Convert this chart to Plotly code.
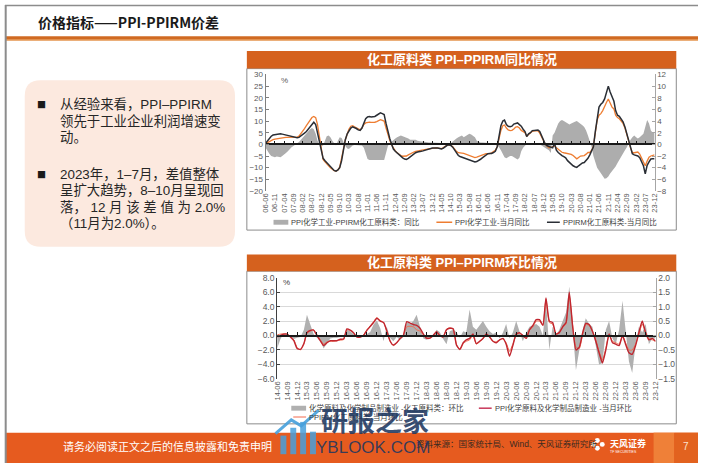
import plotly.graph_objects as go
import pandas as pd

W, H = 702, 468
def fx(x): return x / W
def fy(y): return 1 - y / H

FONT = "Liberation Sans, Noto Sans CJK SC, sans-serif"
CJK = "Noto Sans CJK SC, Liberation Sans, sans-serif"

# ---------------- top chart data (monthly 2006-06 .. 2023-12) ----------------
top_tick_labels = ["06-06","06-11","07-04","07-09","08-02","08-07","08-12","09-05","09-10","10-03",
                   "10-08","11-01","11-06","11-11","12-04","12-09","13-02","13-07","13-12","14-05",
                   "14-10","15-03","15-08","16-01","16-06","16-11","17-04","17-09","18-02","18-07",
                   "18-12","19-05","19-10","20-03","20-08","21-01","21-06","21-11","22-04","22-09",
                   "23-02","23-07","23-12"]

# PPIRM 化工原料类 当月同比 (%)
top_ppirm = [
    0.5, 1.5, 2.5, 3.5, 4.0, 4.2, 4.3,
    4.5, 4.5, 4.4, 4.2, 4.0, 3.8, 3.6, 3.4, 3.2, 3.0, 2.8, 3.0,
    3.5, 4.0, 4.8, 5.5, 6.5, 7.5, 8.8, 9.5, 8.5, 5.0, 0.5, -3.0,
    -6.0, -7.0, -7.8, -8.5, -9.5, -10.5, -11.2, -11.5, -11.0, -10.0, -7.0, -2.5,
    2.0, 4.5, 6.0, 7.0, 7.5, 7.2, 6.8, 6.2, 6.0, 7.0, 9.0, 11.0,
    11.8, 12.0, 11.8, 11.8, 12.0, 12.5, 13.0, 13.5, 13.2, 12.8, 9.0, 5.0,
    2.5, 0.0, -2.0, -3.0, -3.8, -4.5, -5.0, -5.8, -6.3, -6.5, -6.0, -5.3,
    -4.8, -4.2, -3.6, -3.3, -3.0, -3.0, -2.8, -2.5, -2.3, -2.0, -1.8, -1.6,
    -1.6, -1.5, -1.6, -1.8, -2.0, -1.6, -1.0, -0.4, -0.2, -0.5, -1.2, -2.5,
    -3.8, -4.8, -5.2, -5.5, -5.7, -6.0, -6.4, -6.7, -7.0, -7.3, -7.6, -7.4,
    -7.0, -6.4, -5.8, -5.2, -4.5, -4.0, -3.9, -3.9, -3.5, -3.0, -1.0, 3.0,
    8.0, 10.0, 10.4, 8.5, 7.8, 7.6, 7.8, 8.7, 9.0, 9.2, 8.5, 7.8,
    6.5, 5.5, 3.4, 4.5, 5.0, 5.9, 6.0, 6.2, 6.2, 5.5, 3.6, 1.5,
    0.0, -0.6, -0.8, -1.2, -1.5, 0.5, -2.5, -3.5, -4.3, -4.8, -5.3, -5.8,
    -7.0, -7.8, -8.5, -9.2, -9.6, -9.9, -9.2, -8.5, -8.0, -7.8, -7.0, -6.0,
    -4.5, -3.0, -1.0, 5.5, 11.8, 16.0, 17.2, 18.0, 19.5, 22.0, 25.0, 22.5,
    20.5, 18.5, 14.5, 12.5, 12.0, 11.0, 9.7, 7.5, 4.8, 1.5, -1.5, -4.0,
    -4.5, -4.7, -5.0, -5.7, -7.5, -9.2, -12.7, -9.0, -7.5, -6.3, -6.2, -6.2,
]

# PPI 化学工业 当月同比 (%)
top_ppi = [
    0.3, 0.8, 1.2, 1.6, 2.0, 2.2, 2.4,
    2.6, 2.7, 2.8, 2.9, 3.0, 3.0, 3.0, 3.0, 3.0, 3.0, 3.1, 3.5,
    4.5, 5.5, 6.8, 8.0, 9.2, 10.5, 11.5, 12.0, 11.5, 8.5, 3.0, -2.5,
    -6.5, -7.5, -8.5, -9.2, -10.0, -10.8, -11.3, -11.5, -11.0, -9.8, -6.5, -2.0,
    2.0, 4.8, 6.5, 7.8, 8.0, 7.5, 7.0, 6.5, 6.2, 7.0, 8.5, 9.2,
    9.4, 9.5, 9.4, 9.4, 9.5, 9.8, 10.2, 10.6, 10.3, 10.0, 7.0, 4.0,
    1.8, -0.3, -1.8, -2.8, -3.6, -4.3, -4.8, -5.1, -5.2, -5.0, -4.5, -4.0,
    -3.6, -3.3, -3.0, -2.8, -2.7, -2.6, -2.4, -2.2, -2.0, -1.9, -1.8, -1.6,
    -1.5, -1.5, -1.6, -1.7, -1.8, -1.4, -0.8, -0.3, -0.2, -0.4, -1.0, -2.2,
    -3.0, -3.6, -3.8, -3.8, -3.9, -4.2, -4.6, -5.0, -5.3, -5.5, -5.7, -5.5,
    -5.2, -5.0, -4.6, -4.2, -4.0, -4.0, -4.0, -3.6, -3.0, -2.5, -1.0, 2.5,
    6.0, 8.0, 8.3, 7.0, 6.2, 5.9, 6.0, 6.6, 7.4, 7.6, 7.0, 6.0,
    5.6, 5.0, 3.5, 4.3, 5.0, 5.6, 5.8, 5.9, 5.8, 4.8, 3.2, 1.2,
    0.0, -0.8, -1.5, -1.3, -1.0, -0.7, -1.5, -2.2, -2.8, -3.4, -3.6, -3.7,
    -3.8, -4.0, -4.3, -4.8, -5.5, -6.2, -5.6, -5.0, -4.9, -4.8, -4.2, -3.5,
    -3.5, -2.5, -0.8, 5.0, 10.4, 12.5, 13.2, 14.5, 16.5, 18.0, 19.5, 17.4,
    16.0, 15.2, 12.5, 11.5, 11.0, 10.0, 9.0, 7.0, 4.5, 1.5, -1.5, -3.6,
    -3.6, -3.4, -3.3, -4.2, -5.7, -7.5, -9.2, -7.2, -5.5, -5.0, -4.6, -4.5,
]

# PPI化学工业-PPIRM化工原料类：同比 (right axis, %)
top_gap = [
    -0.6, -1.2, -1.6, -2.0, -2.1, -2.2, -2.1,
    -2.1, -2.2, -2.0, -1.8, -1.5, -1.2, -0.8, -0.5, -0.3, 0.0, 0.2, 0.4,
    0.8, 1.2, 1.6, 2.0, 2.2, 2.6, 2.8, 2.6, 1.8, 0.6, 0.0, -0.3,
    -0.2, 0.8, 1.4, 1.5, 1.2, 0.6, 0.1, -0.2, 0.6, 1.2, 1.1, 0.4,
    -0.3, -0.7, -0.8, -0.5, -0.2, -0.1, -0.1, -0.1, -0.1, -0.2, -0.6, -1.6,
    -2.5, -2.7, -2.7, -2.8, -2.8, -2.8, -2.7, -2.8, -2.8, -2.7, -1.5, -0.3,
    0.2, 0.5, 0.8, 1.0, 1.2, 1.4, 1.5, 1.4, 1.3, 1.2, 1.0, 0.8,
    0.8, 0.9, 0.8, 0.6, 0.5, 0.5, 0.5, 0.4, 0.4, 0.3, 0.3, 0.3,
    0.2, 0.2, 0.2, 0.3, 0.3, 0.2, 0.2, 0.2, 0.1, 0.2, 0.5, 0.8,
    1.0, 1.2, 1.4, 1.5, 1.2, 1.4, 1.6, 1.8, 1.7, 1.5, 1.2, 0.6,
    0.4, 0.3, 0.3, 0.3, 0.2, 0.2, 0.2, 0.2, 0.2, 0.1, -0.2, -0.5,
    -1.0, -1.6, -2.2, -2.4, -2.2, -2.0, -2.0, -2.2, -2.5, -2.6, -2.3, -1.2,
    -0.6, -0.2, 0.1, 0.2, 0.2, 0.3, 0.3, 0.2, 0.1, 0.0, -0.2, -0.4,
    -0.6, -0.8, -1.0, -1.5, 1.5, 2.0, 3.0, 3.6, 4.0, 4.2, 4.0, 3.8,
    3.6, 3.4, 3.6, 3.8, 3.9, 4.0, 3.8, 3.6, 3.3, 3.0, 2.4, 1.5,
    0.6, -0.5, -2.0, -3.0, -4.0, -4.5, -5.0, -5.5, -5.9, -5.8, -5.5, -5.0,
    -4.6, -4.2, -3.8, -3.2, -2.6, -2.0, -1.5, -1.0, -0.5, 0.2, 0.8, 1.2,
    1.5, 1.2, 1.0, 1.2, 1.5, 1.8, 3.0, 4.2, 3.6, 2.4, 2.0, 2.1,
]

# ---------------- bottom chart data (monthly 2014-06 .. 2023-12, right-axis units) ----------------
bot_tick_labels = ["14-06","14-09","14-12"] + [f"{y:02d}-{m:02d}" for y in range(15, 24) for m in (3, 6, 9, 12)]

# 化学原料及化学制品制造业-化工原料类：环比
bot_gap = [
    -0.45, -0.12, 0.08, 0.03, -0.05, -0.12, -0.08, -0.05, 0.2, 0.72, 0.38, 0.05,
    -0.08, -0.15, -0.45, -0.25, -0.1, -0.08, -0.08, -0.05, -0.05, 0.22, 0.15, 0.05,
    -0.05, -0.08, 0.0, 0.05, 0.12, 0.38, 0.52, 0.25, -0.2, 0.32, -0.08, -0.2,
    -0.05, -0.15, -0.05, 0.48, 0.4, 0.5, 0.72, 0.3, -0.1, -0.15, -0.08, -0.05,
    0.2, 0.12, -0.12, -0.3, 0.15, 0.2, 0.12, -0.08, 0.15, 0.1, 0.9, 0.3,
    0.2, 0.35, 0.5, 0.3, 0.15, 0.05, 0.1, -0.1, 0.1, 0.4, -0.1, 0.1,
    0.5, 0.15, -0.2, 0.1, 0.3, 0.35, 0.4, 0.3, 0.0, 1.2, -0.5, 0.3,
    0.0, 0.2, 0.5, 0.8, 1.7, 0.3, -1.2, -0.5, 0.2, 0.6, 0.4, 0.3,
    -0.3, -1.0, -0.95, 0.2, 0.5, -0.1, -0.3, 0.2, 1.2, 0.3, -0.9, -1.3,
    -0.3, 0.3, 0.1, 0.4, -0.3, -0.1, -0.1,
]
# PPI化学原料及化学制品制造业-当月环比
bot_ppi = [
    -0.05, 0.0, 0.05, 0.05, -0.05, -0.18, -0.45, -0.48, -0.28, 0.1, 0.18, 0.19,
    0.0, -0.18, -0.35, -0.25, -0.18, -0.18, -0.18, -0.13, -0.12, 0.23, 0.19, 0.1,
    -0.05, -0.05, 0.0, 0.18, 0.31, 0.45, 0.6, 0.5, 0.45, 0.18, -0.18, -0.33,
    -0.25, -0.11, 0.0, 0.48, 0.43, 0.38, 0.35, 0.25, 0.05, -0.09, -0.09, 0.0,
    0.13, 0.0, -0.05, 0.2, 0.25, 0.23, -0.33, -0.48, -0.25, -0.15, -0.1, 0.05,
    -0.28, -0.2, -0.1, 0.05, -0.05, -0.2, -0.25, -0.15, -0.1, -0.3, -0.72, -0.35,
    0.05, 0.1, 0.0, -0.1, 0.2, 0.35, 0.55, 0.55, 0.35, 1.3, 0.5, 0.45,
    0.05, 0.1, 0.3, 0.45, 1.5, 0.3, -0.5, -0.4, 0.1, 0.42, 0.38, 0.15,
    -0.2, -0.6, -0.95, -0.5, 0.05, -0.25, -0.3, -0.35, 0.0, -0.3, -0.6, -0.65,
    -0.35, 0.1, 0.5, 0.1, -0.15, -0.1, -0.2,
]
# PPIRM化工原料类-当月环比
bot_ppirm = [
    0.02, 0.05, 0.06, 0.04, -0.04, -0.15, -0.42, -0.5, -0.3, 0.08, 0.15, 0.2,
    0.02, -0.15, -0.3, -0.22, -0.2, -0.2, -0.18, -0.16, -0.14, 0.2, 0.18, 0.08,
    -0.06, -0.05, 0.02, 0.2, 0.33, 0.48, 0.62, 0.52, 0.45, 0.15, -0.2, -0.35,
    -0.25, -0.12, 0.02, 0.3, 0.32, 0.3, 0.2, 0.15, 0.02, -0.08, -0.1, 0.0,
    0.12, 0.02, -0.05, 0.22, 0.27, 0.22, -0.3, -0.5, -0.28, -0.2, -0.15, 0.0,
    -0.3, -0.22, -0.12, 0.03, -0.06, -0.2, -0.22, -0.15, -0.12, -0.25, -0.55, -0.3,
    0.02, 0.08, 0.0, -0.05, 0.18, 0.3, 0.5, 0.5, 0.35, 1.25, 0.45, 0.4,
    0.05, 0.12, 0.28, 0.4, 1.35, 0.35, -0.4, -0.45, 0.05, 0.38, 0.35, 0.15,
    -0.15, -0.55, -0.85, -0.45, 0.02, -0.2, -0.25, -0.3, -0.02, -0.25, -0.5, -0.5,
    -0.3, 0.05, 0.4, 0.1, -0.12, -0.15, -0.2,
]

top_months = pd.date_range("2006-06-01", "2023-12-01", freq="MS")
bot_months = pd.date_range("2014-06-01", "2023-12-01", freq="MS")

def tick_dates(labels):
    return ["20%s-%s-01" % (l[:2], l[3:]) for l in labels]

# ---------------- geometry (pixels) ----------------
TX0, TX1, TYT, TYB = 264, 658, 71, 190
BX0, BX1, BYT, BYB = 275.7, 659, 278.7, 382
top_zero = fy(TYB) + (20 / 50) * (fy(TYT) - fy(TYB))
bot_zero = fy(BYB) + (1.5 / 3.5) * (fy(BYT) - fy(BYB))

fig = go.Figure()

# top chart
fig.add_trace(go.Scatter(x=top_months, y=top_gap, xaxis="x", yaxis="y", mode="lines",
                         fill="tozeroy", fillcolor="#ADADAD", line=dict(width=0, color="#ADADAD"),
                         hoverinfo="skip"))
fig.add_trace(go.Scatter(x=top_months, y=top_ppi, xaxis="x", yaxis="y2", mode="lines",
                         line=dict(color="#EE7D31", width=1.3)))
fig.add_trace(go.Scatter(x=top_months, y=top_ppirm, xaxis="x", yaxis="y2", mode="lines",
                         line=dict(color="#2A2E35", width=1.5)))
fig.add_trace(go.Scatter(x=[top_months[0]], y=[0], xaxis="x2", yaxis="y2", mode="markers",
                         marker=dict(opacity=0), hoverinfo="skip"))

# bottom chart
fig.add_trace(go.Scatter(x=bot_months, y=bot_gap, xaxis="x3", yaxis="y3", mode="lines",
                         fill="tozeroy", fillcolor="#B0B0B0", line=dict(width=0, color="#B0B0B0"),
                         hoverinfo="skip"))
fig.add_trace(go.Scatter(x=bot_months, y=bot_ppirm, xaxis="x3", yaxis="y3", mode="lines",
                         line=dict(color="#F26B4F", width=1.0, shape="spline", smoothing=0.5)))
fig.add_trace(go.Scatter(x=bot_months, y=bot_ppi, xaxis="x3", yaxis="y3", mode="lines",
                         line=dict(color="#C0262F", width=1.4, shape="spline", smoothing=0.5)))
fig.add_trace(go.Scatter(x=[bot_months[0]], y=[0], xaxis="x3", yaxis="y4", mode="markers",
                         marker=dict(opacity=0), hoverinfo="skip"))
fig.add_trace(go.Scatter(x=[bot_months[0]], y=[0], xaxis="x4", yaxis="y3", mode="markers",
                         marker=dict(opacity=0), hoverinfo="skip"))

tickf = dict(size=8, color="#595959", family=FONT)
yax = dict(showgrid=False, zeroline=False, showline=True, linewidth=1, ticks="inside",
           ticklen=3, tickfont=tickf, fixedrange=True)

fig.update_layout(
    width=W, height=H, margin=dict(l=0, r=0, t=0, b=0),
    paper_bgcolor="white", plot_bgcolor="rgba(0,0,0,0)", showlegend=False,
    font=dict(family=FONT),
    xaxis=dict(domain=[fx(TX0), fx(TX1)], anchor="y", type="date",
               range=["2006-06-01", "2023-12-01"], tickvals=tick_dates(top_tick_labels),
               ticktext=top_tick_labels, tickangle=-90, tickfont=dict(size=7.5, color="#595959", family=FONT),
               ticks="", showline=False, showgrid=False, zeroline=False),
    xaxis2=dict(overlaying="x", anchor="free", position=top_zero, type="date",
                range=["2006-06-01", "2023-12-01"], tickvals=tick_dates(top_tick_labels),
                showticklabels=False, ticks="inside", ticklen=3, tickcolor="#1a1a1a",
                showline=True, linecolor="#1a1a1a", linewidth=1.5, showgrid=False, zeroline=False),
    yaxis=dict(domain=[fy(TYB), fy(TYT)], anchor="x", side="right", range=[-8, 12], dtick=2,
               linecolor="#A6A6A6", tickcolor="#A6A6A6", **yax),
    yaxis2=dict(overlaying="y", anchor="x", side="left", range=[-20, 30], dtick=5,
                linecolor="#7F7F7F", tickcolor="#7F7F7F", **yax),
    xaxis3=dict(domain=[fx(BX0), fx(BX1)], anchor="y3", type="date",
                range=["2014-06-01", "2023-12-01"], tickvals=tick_dates(bot_tick_labels),
                ticktext=bot_tick_labels, tickangle=-90, tickfont=dict(size=7.5, color="#595959", family=FONT),
                ticks="", showline=False, showgrid=False, zeroline=False),
    xaxis4=dict(overlaying="x3", anchor="free", position=bot_zero, type="date",
                range=["2014-06-01", "2023-12-01"], tickvals=tick_dates(bot_tick_labels),
                showticklabels=False, ticks="inside", ticklen=3, tickcolor="#1a1a1a",
                showline=True, linecolor="#1a1a1a", linewidth=1.5, showgrid=False, zeroline=False),
    yaxis3=dict(domain=[fy(BYB), fy(BYT)], anchor="x3", side="right", range=[-1.5, 2.0], dtick=0.5,
                tickformat=".1f", linecolor="#A6A6A6", tickcolor="#A6A6A6",
                **{**yax, "showgrid": True, "tickfont": dict(size=8.5, color="#595959", family=FONT)},
                gridcolor="#D9D9D9", gridwidth=1),
    yaxis4=dict(overlaying="y3", anchor="x3", side="left", range=[-6, 8], dtick=2, tickformat=".1f",
                linecolor="#404040", tickcolor="#404040",
                **{**yax, "tickfont": dict(size=8.5, color="#595959", family=FONT)}),
)

shapes = []
anns = []

def rect(x0, y0, x1, y1, fill=None, line=None, lw=0, layer="below"):
    shapes.append(dict(type="rect", xref="paper", yref="paper", x0=fx(x0), x1=fx(x1),
                       y0=fy(y1), y1=fy(y0), fillcolor=fill or "rgba(0,0,0,0)",
                       line=dict(color=line or "rgba(0,0,0,0)", width=lw), layer=layer))

def hline(x0, x1, y, color, lw, layer="above"):
    shapes.append(dict(type="line", xref="paper", yref="paper", x0=fx(x0), x1=fx(x1),
                       y0=fy(y), y1=fy(y), line=dict(color=color, width=lw), layer=layer))

def text(x, y, s, size, color="#262626", family=CJK, xanchor="left", bold=False, opacity=1):
    if bold:
        s = "<b>" + s + "</b>"
    anns.append(dict(x=fx(x), y=fy(y), xref="paper", yref="paper", text=s, showarrow=False,
                     xanchor=xanchor, yanchor="middle", opacity=opacity,
                     font=dict(size=size, color=color, family=family)))

# page border
shapes.append(dict(type="line", xref="paper", yref="paper", x0=0.001, x1=0.001, y0=0, y1=1,
                   line=dict(color="#8C8C8C", width=2)))
shapes.append(dict(type="line", xref="paper", yref="paper", x0=0, x1=1, y0=0.999, y1=0.999,
                   line=dict(color="#8C8C8C", width=1.5)))

# header
text(31, 17.5, "价格指标——PPI-PPIRM价差", 14, "#1A1A1A", bold=True)
rect(0, 32, 702, 36, fill="#D06A22")
rect(0, 35, 702, 36.5, fill="#E9A060")

# left rounded box
bx0, bx1, by0, by1, r = 20, 233, 77, 247, 16
X0, X1, YT, YB = fx(bx0), fx(bx1), fy(by0), fy(by1)
rx, ry = r / W, r / H
path = (f"M {X0+rx},{YT} L {X1-rx},{YT} Q {X1},{YT} {X1},{YT-ry} L {X1},{YB+ry} "
        f"Q {X1},{YB} {X1-rx},{YB} L {X0+rx},{YB} Q {X0},{YB} {X0},{YB+ry} L {X0},{YT-ry} "
        f"Q {X0},{YT} {X0+rx},{YT} Z")
shapes.append(dict(type="path", xref="paper", yref="paper", path=path, fillcolor="#FCE9DF",
                   line=dict(width=0), layer="below"))
box_font = "Liberation Sans, Noto Sans CJK SC, sans-serif"
text(37, 101.7, "■", 9, "#1A1A1A", xanchor="center")
text(37, 173.3, "■", 9, "#1A1A1A", xanchor="center")
for yy, s in [(101.7, "从经验来看，PPI–PPIRM"), (118.4, "领先于工业企业利润增速变"), (135.5, "动。"),
              (173.3, "2023年，1–7月，差值整体"), (190.0, "呈扩大趋势，8–10月呈现回"),
              (206.7, "落， 12 月 该 差 值 为 2.0%"), (223.5, "（11月为2.0%）。")]:
    text(54, yy, s, 13.4, "#262626", family=box_font)

# chart frames and title bars
for (ty0, ty1, fy1, title) in [(47, 65, 230, "化工原料类 PPI–PPIRM同比情况"),
                               (255, 272, 428, "化工原料类 PPI–PPIRM环比情况")]:
    rect(245, ty1, 680, fy1, line="#8C8C8C", lw=1)
    rect(245, ty0, 680, ty1, fill="#D5611E")
    text(462.5, (ty0 + ty1) / 2, title, 13, "white", family=box_font, xanchor="center", bold=True)

# percent labels
text(278, 77.5, "%", 8, "#595959", family=FONT)
text(280, 284, "%", 8, "#404040", family=FONT)

# legends (top)
LF = 7.5
rect(272, 219.5, 287, 224.5, fill="#ADADAD", layer="above")
text(288, 222, "PPI化学工业-PPIRM化工原料类：同比", LF, "#404040", family=box_font)
hline(437, 453, 222, "#EE7D31", 1.5)
text(454, 222, "PPI化学工业-当月同比", LF, "#404040", family=box_font)
hline(549, 562, 222, "#2A2E35", 1.5)
text(563, 222, "PPIRM化工原料类-当月同比", LF, "#404040", family=box_font)

# legends (bottom)
rect(290, 409.5, 305, 414.5, fill="#B0B0B0", layer="above")
text(306, 412, "化学原料及化学制品制造业 -化工原料类：环比", LF, "#404040", family=box_font)
hline(480, 493, 412, "#C8385A", 1.5)
text(494, 412, "PPI化学原料及化学制品制造业 -当月环比", LF, "#404040", family=box_font)
hline(292, 305, 421, "#F26B4F", 1.0)
text(306, 421, "PPIRM化工原料类-当月环比", LF, "#404040", family=box_font)

# footer
rect(0, 437, 702, 468, fill="#E65B1F")
rect(657, 437, 678, 468, fill="#EF8038")
rect(678, 437, 702, 468, fill="#E2621F")
text(57, 451, "请务必阅读正文之后的信息披露和免责申明", 11, "white", family=CJK)
text(414, 449, "资料来源：国家统计局、Wind、天风证券研究所", 8.5, "#3A2A20", family=box_font)
text(611, 448, "天风证券", 9, "white", family=CJK, bold=True)
text(611, 456.5, "TF SECURITIES", 3.5, "white", family=FONT)
for (cx, cy) in [(600, 445), (605, 449), (600, 453), (596, 449)]:
    shapes.append(dict(type="circle", xref="paper", yref="paper", x0=fx(cx - 2.5), x1=fx(cx + 2.5),
                       y0=fy(cy + 2.5), y1=fy(cy - 2.5), fillcolor="white", line=dict(width=0)))
text(690, 451, "7", 10, "#FBE3D0", family=FONT, xanchor="center")

# watermark
for (x0, y0, x1) in [(279, 440, 285), (289, 432, 295), (299, 426, 305), (309, 436, 315)]:
    shapes.append(dict(type="rect", xref="paper", yref="paper", x0=fx(x0), x1=fx(x1),
                       y0=fy(459), y1=fy(y0), fillcolor="rgba(70,160,220,0.85)", line=dict(width=0),
                       layer="above"))
shapes.append(dict(type="path", xref="paper", yref="paper",
                   path=f"M {fx(274)},{fy(438)} L {fx(290)},{fy(424)} L {fx(300)},{fy(430)} L {fx(318)},{fy(414)}",
                   line=dict(color="rgba(70,160,220,0.9)", width=3), layer="above"))
text(375, 424, "研报之家", 27, "rgba(30,55,95,0.88)", family=CJK, xanchor="center", bold=True)
text(373, 452, "YBLOOK.COM", 17, "rgba(30,55,95,0.88)", family=FONT, xanchor="center")

fig.update_layout(shapes=shapes, annotations=anns)
fig.write_html("out.html", config={"displayModeBar": False},
               post_script="document.body.style.margin='0px';document.body.style.overflow='hidden';")
